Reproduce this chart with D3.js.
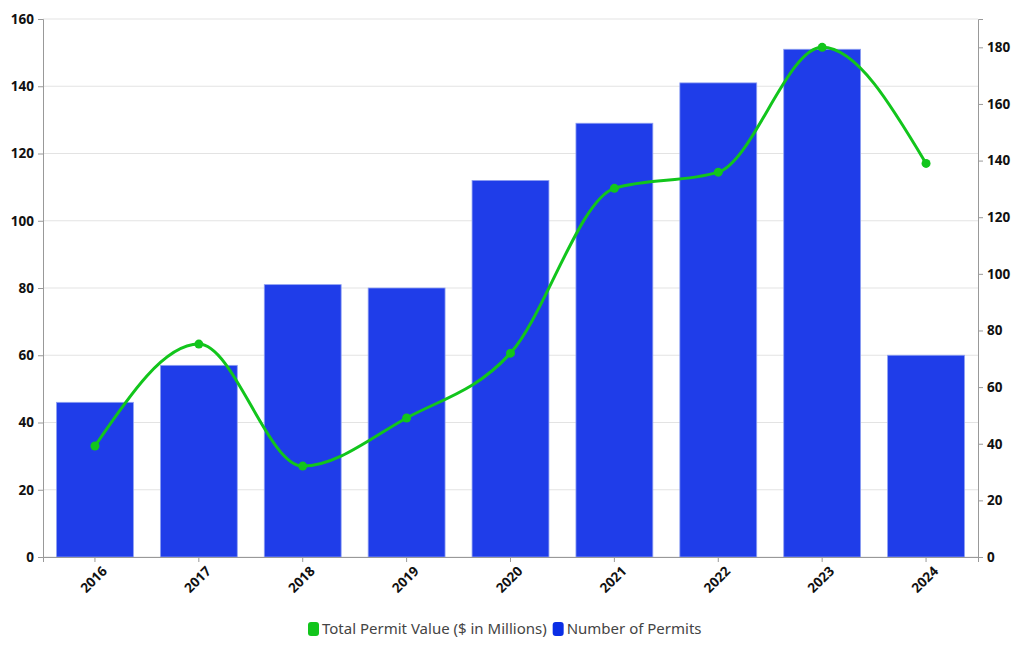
<!DOCTYPE html>
<html>
<head>
<meta charset="utf-8">
<script src="https://cdn.jsdelivr.net/npm/d3@7"></script>
<style>
  body { margin: 0; background: #fff; font-family: "Noto Sans", "Open Sans", sans-serif; }
  .legend text { font-size: 15px; fill: #444; font-family: "Noto Sans", sans-serif; }
</style>
</head>
<body>
<svg id="chart" width="1020" height="650"></svg>
<script>
var years = ['2016','2017','2018','2019','2020','2021','2022','2023','2024'];
var permits = [46, 57, 81, 80, 112, 129, 141, 151, 60];
var permitValue = [39.2, 75.2, 32.1, 49.1, 72, 130.2, 135.9, 180, 139];
var leftTicks = [0, 20, 40, 60, 80, 100, 120, 140, 160];
var rightTicks = [0, 20, 40, 60, 80, 100, 120, 140, 160, 180];

var margin = {left: 43, right: 42, top: 19, bottom: 93};
var width = 1020 - margin.left - margin.right;
var height = 650 - margin.top - margin.bottom;

var svg = d3.select('#chart');
var g = svg.append('g').attr('transform', 'translate(' + margin.left + ',' + margin.top + ')');

var x = d3.scaleBand().domain(years).range([0, width]).paddingInner(0.26).paddingOuter(0.13);
var yL = d3.scaleLinear().domain([0, 160]).range([height, 0]);
var yR = d3.scaleLinear().domain([0, 190]).range([height, 0]);

// grid
g.append('g').selectAll('line')
	.data(leftTicks)
	.enter().append('line')
	.attr('x1', 0).attr('x2', width)
	.attr('y1', function(d) { return yL(d); })
	.attr('y2', function(d) { return yL(d); })
	.attr('stroke', '#e3e3e3');

// bars
g.append('g').selectAll('rect')
	.data(permits)
	.enter().append('rect')
	.attr('x', function(d, i) { return x(years[i]); })
	.attr('y', function(d) { return yL(d); })
	.attr('width', x.bandwidth())
	.attr('height', function(d) { return height - yL(d); })
	.attr('fill', '#1f3de9')
	.attr('stroke', '#8fa0f2')
	.attr('stroke-width', 0.8);

// axes
var axL = g.append('g').call(d3.axisLeft(yL).tickValues(leftTicks).tickSize(5).tickPadding(4));
var axR = g.append('g').attr('transform', 'translate(' + width + ',0)')
	.call(d3.axisRight(yR).tickValues(rightTicks).tickSize(5).tickPadding(4));
var axB = g.append('g').attr('transform', 'translate(0,' + height + ')')
	.call(d3.axisBottom(x).tickSize(5).tickPadding(4));
axB.selectAll('text')
	.attr('text-anchor', 'end')
	.attr('dx', '-0.1em')
	.attr('dy', '0.8em')
	.attr('transform', 'rotate(-45)');
[axL, axR, axB].forEach(function(a) {
	a.attr('font-family', null).attr('font-size', null);
	a.select('.domain').attr('stroke', '#999');
	a.selectAll('.tick line').attr('stroke', '#999');
	a.selectAll('.tick text')
		.style('font-family', '"Open Sans", sans-serif')
		.style('font-weight', 'bold')
		.style('font-size', '13.5px')
		.style('fill', '#111');
});

// line
var line = d3.line()
	.x(function(d, i) { return x(years[i]) + x.bandwidth() / 2; })
	.y(function(d) { return yR(d); })
	.curve(d3.curveMonotoneX);

g.append('path')
	.datum(permitValue)
	.attr('d', line)
	.attr('fill', 'none')
	.attr('stroke', '#12c51c')
	.attr('stroke-width', 3);

g.append('g').selectAll('circle')
	.data(permitValue)
	.enter().append('circle')
	.attr('cx', function(d, i) { return x(years[i]) + x.bandwidth() / 2; })
	.attr('cy', function(d) { return yR(d); })
	.attr('r', 4.5)
	.attr('fill', '#12c51c');

// legend
var legendItems = [
	{label: 'Total Permit Value ($ in Millions)', color: '#12c51c'},
	{label: 'Number of Permits', color: '#0a2ee6'}
];
var legend = svg.append('g').attr('class', 'legend').attr('transform', 'translate(308,629)');
var lx = 0;
legendItems.forEach(function(item) {
	var it = legend.append('g').attr('transform', 'translate(' + lx + ',0)');
	it.append('rect').attr('x', 0).attr('y', -7).attr('width', 11).attr('height', 14)
		.attr('rx', 3).attr('fill', item.color);
	var t = it.append('text').attr('x', 14).attr('y', 0).attr('dy', '0.35em').text(item.label);
	lx += 14 + t.node().getComputedTextLength() + 6;
});
</script>
</body>
</html>
